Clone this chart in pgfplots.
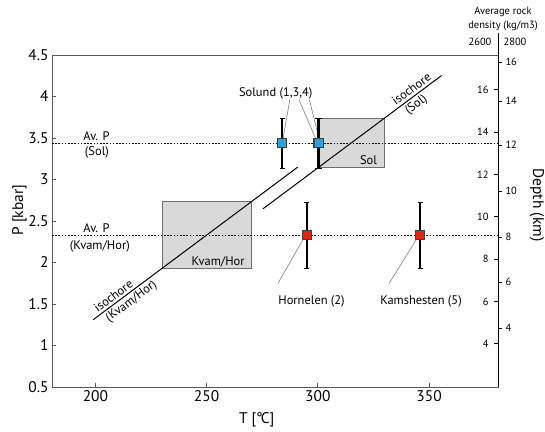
\documentclass[border=0pt]{standalone}
\usepackage{pgfplots}
\pgfplotsset{compat=1.18}
\usepackage{fontspec}
\setmainfont{PT Sans}
\definecolor{solblue}{HTML}{29A3DC}
\definecolor{hred}{HTML}{E2231A}
\definecolor{boxfill}{HTML}{D9D9D9}
\definecolor{boxedge}{HTML}{6E6E6E}
\definecolor{axgray}{HTML}{5A5A5A}
\definecolor{leader}{HTML}{808080}
\newcommand{\tk}{\fontsize{15.5}{17}\selectfont}
\newcommand{\an}{\fontsize{12.5}{14}\selectfont}
\newcommand{\sm}{\fontsize{10.5}{14}\selectfont}
\begin{document}
\begin{tikzpicture}
\useasboundingbox (0,0) rectangle (545bp,432bp);
\pgfplotsset{base/.style={at={(52bp,45bp)}, anchor=south west, scale only axis,
  width=446bp, height=332bp, xmin=180.5, xmax=381, ymin=0.5, ymax=4.5,
  /pgf/number format/assume math mode=true}}
\begin{axis}[base, clip=false,
  axis line style={axgray, line width=0.9bp},
  tick pos=left, tick align=inside, major tick length=4bp,
  tick style={axgray, line width=0.8bp},
  xtick={200,250,300,350}, ytick={0.5,1,1.5,2,2.5,3,3.5,4,4.5},
  ticklabel style={font=\tk},
  xlabel={T [\kern-0.3pt°\kern-1.8ptC]}, ylabel={P [kbar]},
  label style={font=\tk},
  xlabel style={at={(axis description cs:0.459,-0.099)}, anchor=center},
  ylabel style={at={(axis description cs:-0.073,0.533)}, anchor=center},
]
% P-T boxes
\addplot[fill=boxfill, draw=boxedge, line width=0.9bp] coordinates {(230,1.93) (270,1.93) (270,2.73) (230,2.73)} --cycle;
\addplot[fill=boxfill, draw=boxedge, line width=0.9bp] coordinates {(300,3.14) (330,3.14) (330,3.74) (300,3.74)} --cycle;
% isochores
\addplot[black, line width=1bp] coordinates {(199,1.31) (291,3.15)};
\addplot[black, line width=1bp] coordinates {(275.3,2.646) (355.6,4.252)};
% average pressures
\addplot[black, line width=0.8bp, dash pattern=on 1.6bp off 1.6bp] coordinates {(180.5,3.44) (381,3.44)};
\addplot[black, line width=0.8bp, dash pattern=on 1.6bp off 1.6bp] coordinates {(180.5,2.33) (381,2.33)};
% leader lines
\addplot[leader, line width=0.6bp] coordinates {(287.4,3.96) (284.4,3.50)};
\addplot[leader, line width=0.6bp] coordinates {(291.6,3.96) (298.9,3.50)};
\addplot[leader, line width=0.6bp] coordinates {(296.2,3.96) (300.5,3.50)};
\addplot[leader, line width=0.6bp] coordinates {(293.4,2.28) (282.1,1.75)};
\addplot[leader, line width=0.6bp] coordinates {(344.4,2.28) (332.1,1.75)};
% Solund samples
\addplot[only marks, mark=square*, mark size=4.5bp, mark options={fill=solblue, draw=black!75, line width=0.7bp},
  error bars/.cd, y dir=both, y explicit,
  error bar style={black, line width=1.6bp},
  error mark options={black, line width=0.6bp, mark size=2.5bp, rotate=90}]
  coordinates {(284,3.44) +- (0,0.3) (299.8,3.44) +- (0,0.3) (300.6,3.44) +- (0,0.3)};
% Hornelen and Kamshesten samples
\addplot[only marks, mark=square*, mark size=4.5bp, mark options={fill=hred, draw=black!75, line width=0.7bp},
  error bars/.cd, y dir=both, y explicit,
  error bar style={black, line width=1.6bp},
  error mark options={black, line width=0.6bp, mark size=2.5bp, rotate=90}]
  coordinates {(295,2.33) +- (0,0.4) (346,2.33) +- (0,0.4)};
% annotations
\node[font=\an] at (axis cs:200.5,3.524) {Av. P};
\node[font=\an] at (axis cs:200.7,3.325) {(Sol)};
\node[font=\an] at (axis cs:200.5,2.416) {Av. P};
\node[font=\an] at (axis cs:202,2.199) {(Kvam/Hor)};
\node[font=\an, anchor=base east, xshift=-3bp, yshift=3bp] at (axis cs:270,1.93) {Kvam/Hor};
\node[font=\an, anchor=base east, xshift=-4bp, yshift=3bp] at (axis cs:330,3.14) {Sol};
\node[font=\an] at (axis cs:281.1,4.04) {Solund (1,3,4)};
\node[font=\an] at (axis cs:297.2,1.53) {Hornelen (2)};
\node[font=\an] at (axis cs:346.4,1.53) {Kamshesten (5)};
\node[font=\an, rotate=36.7, anchor=south, inner sep=2.5bp] at (axis cs:210,1.53) {isochore};
\node[font=\an, rotate=36.7, anchor=north, inner sep=2.5bp] at (axis cs:214,1.61) {(Kvam/Hor)};
\node[font=\an, rotate=36.7, anchor=south, inner sep=2.5bp] at (axis cs:344,4.02) {isochore};
\node[font=\an, rotate=36.7, anchor=north, inner sep=2.5bp] at (axis cs:342,3.98) {(Sol)};
\end{axis}
% depth scale for 2800 kg/m3
\begin{axis}[base, axis x line=none, axis y line*=right,
  axis line style={black, line width=1bp},
  ytick={1.211,1.765,2.307,2.861,3.416,3.946,4.416},
  yticklabels={4,6,8,10,12,14,16},
  tick align=outside, major tick length=4bp, tick style={black, line width=0.8bp},
  yticklabel style={font=\sm}]
\end{axis}
% depth scale for 2600 kg/m3
\begin{axis}[base, axis x line=none, axis y line*=right,
  axis line style={black, line width=1bp},
  ytick={1.020,1.530,2.040,2.550,3.060,3.570,4.080},
  yticklabels={4,6,8,10,12,14,16},
  tick align=inside, major tick length=4bp, tick style={black, line width=0.8bp},
  yticklabel style={font=\sm, anchor=east, xshift=-6bp}]
\end{axis}
\node[font=\sm, align=center] at (503bp,413bp) {Average rock\\density (kg/m3)};
\node[font=\sm] at (480bp,390bp) {2600};
\node[font=\sm] at (515bp,390bp) {2800};
\draw[black, line width=1bp] (498bp,399bp) -- (498bp,377bp);
\node[font=\tk, rotate=-90] at (537bp,227bp) {Depth (km)};
\end{tikzpicture}
\end{document}
